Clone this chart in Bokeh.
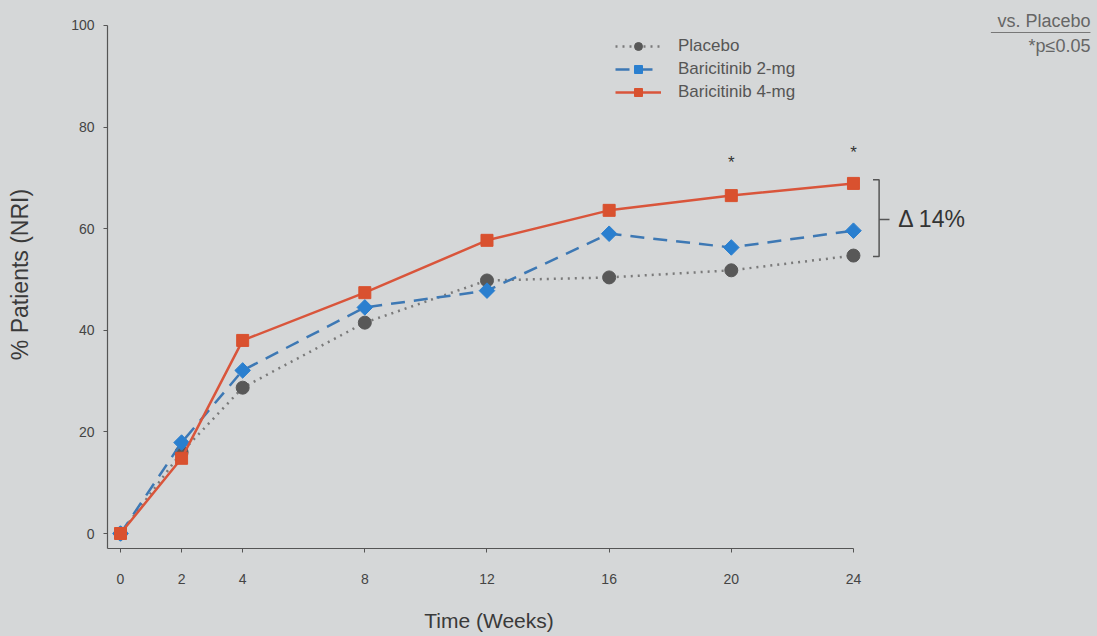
import math
from bokeh.plotting import figure
from bokeh.layouts import row
from bokeh.models import (FixedTicker, Legend, LegendItem, Range1d, ColumnDataSource)
from bokeh.core.properties import value
from bokeh.embed import file_html
from bokeh.resources import INLINE

# ---- data ----
weeks = [0, 2, 4, 8, 12, 16, 20, 24]
placebo = [0, 16.0, 28.7, 41.5, 49.8, 50.4, 51.8, 54.7]
bari_2mg = [0, 17.9, 32.1, 44.5, 47.8, 59.0, 56.3, 59.6]
bari_4mg = [0, 14.8, 38.0, 47.4, 57.7, 63.6, 66.5, 68.9]
series_names = ["Placebo", "Baricitinib 2-mg", "Baricitinib 4-mg"]
x_ticks = [0, 2, 4, 8, 12, 16, 20, 24]
y_ticks = [0, 20, 40, 60, 80, 100]
sig_weeks = [20, 24]
sig_y = [73.0, 75.0]
delta_text = "Δ 14%"
bracket_top = 69.6
bracket_bottom = 54.5

BG = "#d5d7d8"
FONT = "Liberation Sans"

y_range = Range1d(-2.95, 104.9)

# ---- main chart ----
p = figure(width=870, height=636, output_backend="svg", toolbar_location=None,
           x_range=Range1d(-0.426, 24.558), y_range=y_range,
           min_border_left=107, min_border_right=0, min_border_top=0, min_border_bottom=88,
           background_fill_color=BG, border_fill_color=BG, outline_line_color=None)
p.grid.visible = False

for ax in (p.xaxis[0], p.yaxis[0]):
    ax.axis_line_color = "#555555"
    ax.axis_line_width = 1.2
    ax.major_tick_line_color = "#555555"
    ax.major_tick_in = 0
    ax.major_tick_out = 4
    ax.minor_tick_line_color = None
    ax.major_label_text_font = FONT
    ax.major_label_text_font_size = "14px"
    ax.major_label_text_color = "#444444"
    ax.axis_label_text_font = FONT
    ax.axis_label_text_font_style = "normal"
    ax.axis_label_text_color = "#3a3a3a"

p.xaxis[0].ticker = FixedTicker(ticks=x_ticks)
p.xaxis[0].bounds = (-0.426, 24)
p.xaxis[0].major_label_standoff = 21
p.xaxis[0].axis_label = "Time (Weeks)"
p.xaxis[0].axis_label_text_font_size = "21px"
p.xaxis[0].axis_label_standoff = 22

p.yaxis[0].ticker = FixedTicker(ticks=y_ticks)
p.yaxis[0].bounds = (-2.95, 100)
p.yaxis[0].major_label_standoff = 9
p.yaxis[0].axis_label = "% Patients (NRI)"
p.yaxis[0].axis_label_text_font_size = "23px"
p.yaxis[0].axis_label_standoff = 35

src = ColumnDataSource(dict(w=weeks, pl=placebo, b2=bari_2mg, b4=bari_4mg))

l_pl = p.line("w", "pl", source=src, line_color="#7a7a7a", line_width=2.5, line_dash="2 5")
m_pl = p.scatter("w", "pl", source=src, marker="circle", size=13,
                 fill_color="#585858", line_color="#585858")
l_b2 = p.line("w", "b2", source=src, line_color="#3d78b4", line_width=2.5, line_dash="14 9")
m_b2 = p.scatter("w", "b2", source=src, marker="square", angle=math.pi / 4, size=11,
                 fill_color="#2a7fcf", line_color="#2a7fcf")
l_b4 = p.line("w", "b4", source=src, line_color="#d9553b", line_width=2.5)
m_b4 = p.scatter("w", "b4", source=src, marker="square", size=12,
                 fill_color="#d9512f", line_color="#d9512f")

legend = Legend(items=[
    LegendItem(label=series_names[0], renderers=[l_pl, m_pl]),
    LegendItem(label=series_names[1], renderers=[l_b2, m_b2]),
    LegendItem(label=series_names[2], renderers=[l_b4, m_b4]),
], location=(508, 446), background_fill_alpha=0, border_line_color=None,
   glyph_width=46, glyph_height=20, label_height=20, spacing=3, padding=0, margin=0,
   label_standoff=17, label_text_font=FONT, label_text_font_size="17px",
   label_text_color="#555555")
p.add_layout(legend, "center")

p.text(x=sig_weeks, y=sig_y, text=["*", "*"], text_align="center", text_baseline="middle",
       text_font=value(FONT), text_font_size="17px", text_color="#333333")

# ---- right-hand annotation panel (same y scale) ----
q = figure(width=227, height=636, output_backend="svg", toolbar_location=None,
           x_range=Range1d(24.558, 31.991), y_range=y_range,
           x_axis_type=None, y_axis_type=None,
           min_border_left=0, min_border_right=0, min_border_top=0, min_border_bottom=88,
           background_fill_color=BG, border_fill_color=BG, outline_line_color=None)
q.grid.visible = False

bx = 24.84
mid = 61.8
q.multi_line(xs=[[24.64, bx, bx, 24.64], [bx, 25.18]],
             ys=[[bracket_top, bracket_top, bracket_bottom, bracket_bottom], [mid, mid]],
             line_color="#555555", line_width=1.5)
q.text(x=[25.47], y=[mid], text=[delta_text],
       text_align="left", text_baseline="middle", text_font=value(FONT),
       text_font_size="23px", text_color="#333333")

q.text(x=[31.76, 31.76], y=[100.8, 95.9], text=["vs. Placebo", "*p≤0.05"],
       text_align="right", text_baseline="middle", text_font=value(FONT),
       text_font_size="18px", text_color="#666666")
q.line(x=[28.5, 31.76], y=[98.6, 98.6], line_color="#777777", line_width=1.2)

layout = row(p, q, spacing=0, styles={"background-color": BG})
open("out.html", "w").write(file_html(layout, INLINE))
